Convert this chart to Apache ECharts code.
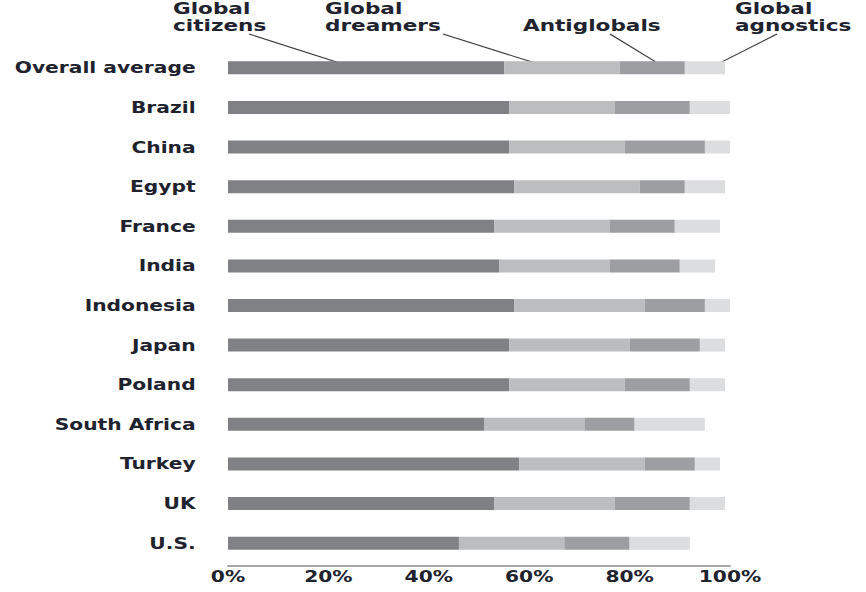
<!DOCTYPE html>
<html>
<head>
<meta charset="utf-8">
<script src="https://cdn.jsdelivr.net/npm/echarts@6/dist/echarts.min.js"></script>
<style>
  html, body { margin: 0; padding: 0; background: #fff; overflow: hidden; }
  #wrap { width: 866px; height: 592px; overflow: hidden; }
  #chart { width: 642px; height: 592px; transform-origin: 0 0; transform: scaleX(1.34891); }
</style>
</head>
<body>
<div id="wrap"><div id="chart"></div></div>
<script>
const categories = ['Overall average','Brazil','China','Egypt','France','India','Indonesia','Japan','Poland','South Africa','Turkey','UK','U.S.'];
const seriesNames = ['Global citizens','Global dreamers','Antiglobals','Global agnostics'];
const citizens    = [55,56,56,57,53,54,57,56,56,51,58,53,46];
const dreamers    = [23,21,23,25,23,22,26,24,23,20,25,24,21];
const antiglobals = [13,15,16, 9,13,14,12,14,13,10,10,15,13];
const agnostics   = [ 8, 8, 5, 8, 9, 7, 5, 5, 7,14, 5, 7,12];
const xTicks = [0,20,40,60,80,100];
// annotation label lines (top line, bottom line) for each series
const annotationLines = [['Global','citizens'],['Global','dreamers'],['','Antiglobals'],['Global','agnostics']];
// points (percent along "Overall average" bar) the annotation leaders point at
const annotationTargets = [23, 62, 86, 97.4];

const S = 866/642;
const colors = ['#808184','#bcbdbf','#9d9ea1','#dcdddf'];
const textColor = '#20222e';
const FONT = 'DejaVu Sans';

const chart = echarts.init(document.getElementById('chart'), null, {renderer:'svg'});
const values = [citizens, dreamers, antiglobals, agnostics];

chart.setOption({
  animation: false,
  grid: { left: 228/S, right: 136/S, top: 48, bottom: 29, containLabel: false },
  xAxis: {
    type: 'value', min: 0, max: 100, interval: 20, offset: 3,
    axisLine: { show: true, lineStyle: { color: '#8a8a8a', width: 1.5 } },
    axisTick: { show: false },
    splitLine: { show: false },
    axisLabel: { margin: 3, color: textColor, fontFamily: FONT, fontWeight: 'bold', fontSize: 15,
      formatter: v => xTicks.includes(v) ? v + '%' : '' }
  },
  yAxis: {
    type: 'category', data: categories, inverse: true,
    axisLine: { show: false }, axisTick: { show: false },
    axisLabel: { margin: 24, color: textColor, fontFamily: FONT, fontWeight: 'bold', fontSize: 15 }
  },
  series: seriesNames.map((n, i) => ({
    name: n, type: 'bar', stack: 'all', data: values[i], barWidth: 13,
    itemStyle: { color: colors[i] }
  }))
});

function drawAnnotations() {
  const starts = [[249,34],[443,34],[610,34],[777,34]];
  const labelX = [173, 325, 523, 735];
  const lineY = [8, 25];
  const elements = [];
  annotationLines.forEach((pair, i) => {
    pair.forEach((t, j) => {
      if (!t) return;
      elements.push({ type:'text', x: labelX[i]/S, y: lineY[j], silent:true,
        style:{ text:t, fill:textColor, font:'bold 16px "DejaVu Sans"',
          textAlign:'left', textVerticalAlign:'middle' } });
    });
  });
  annotationTargets.forEach((p, i) => {
    const pt = chart.convertToPixel({gridIndex:0}, [p, categories[0]]);
    elements.push({ type:'line', silent:true,
      shape:{ x1: starts[i][0]/S, y1: starts[i][1], x2: pt[0], y2: pt[1]-3.5 },
      style:{ stroke:'#3a3a3a', lineWidth:1 } });
  });
  chart.setOption({ graphic: elements });
}
drawAnnotations();
</script>
</body>
</html>
